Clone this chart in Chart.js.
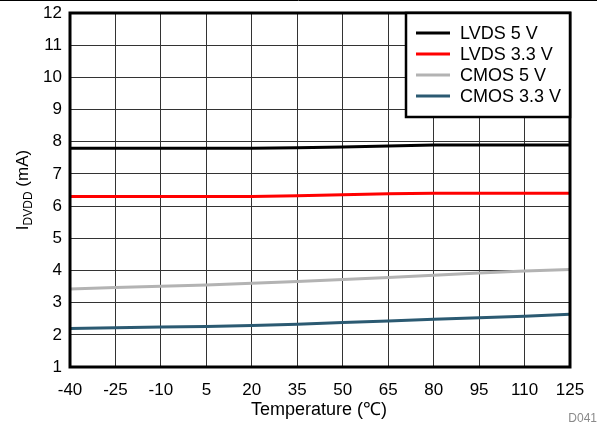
<!DOCTYPE html>
<html><head><meta charset="utf-8">
<script src="https://cdn.jsdelivr.net/npm/chart.js@4/dist/chart.umd.min.js"></script>
<style>html,body{margin:0;padding:0;background:#fff}#wrap{width:597px;height:426px;position:relative}</style>
</head><body><div id="wrap"><canvas id="c" width="597" height="426"></canvas></div>
<script>
const temperatures = [-40,-25,-10,5,20,35,50,65,80,95,110,125];
const lvds5 = [7.8,7.8,7.8,7.8,7.8,7.81,7.84,7.87,7.9,7.9,7.9,7.9];
const lvds33 = [6.3,6.3,6.3,6.3,6.3,6.32,6.35,6.38,6.4,6.4,6.4,6.4];
const cmos5 = [3.42,3.47,3.51,3.55,3.6,3.66,3.72,3.78,3.85,3.92,3.98,4.03];
const cmos33 = [2.2,2.22,2.24,2.26,2.29,2.33,2.38,2.43,2.48,2.53,2.58,2.64];
const seriesNames = ['LVDS 5 V','LVDS 3.3 V','CMOS 5 V','CMOS 3.3 V'];
const seriesColors = ['#000000','#ff0000','#b3b3b3','#2b5a72'];
const FONT = '"Liberation Sans", Arial, sans-serif';

const mk = (vals,i)=>({label:seriesNames[i],data:temperatures.map((t,k)=>({x:t,y:vals[k]})),borderColor:seriesColors[i],backgroundColor:seriesColors[i],borderWidth:3,pointRadius:0,tension:0,fill:false});

const overlay = {
  id:'overlay',
  afterDraw(chart){
    const ctx=chart.ctx, a=chart.chartArea;
    ctx.save();
    ctx.strokeStyle='#000';ctx.lineWidth=1;
    ctx.beginPath();ctx.moveTo(0,0.5);ctx.lineTo(597,0.5);ctx.stroke();
    ctx.lineWidth=3;ctx.strokeRect(a.left,a.top,a.right-a.left,a.bottom-a.top);
    const lx=406, ly=a.top, lw=a.right-lx, lh=104;
    ctx.fillStyle='#fff';ctx.fillRect(lx,ly,lw,lh);
    ctx.lineWidth=2.5;ctx.strokeRect(lx,ly,lw,lh);
    ctx.font='18px '+FONT;ctx.textBaseline='middle';ctx.textAlign='left';
    chart.data.datasets.forEach((d,i)=>{
      const y=ly+20+i*21;
      ctx.strokeStyle=d.borderColor;ctx.lineWidth=3;
      ctx.beginPath();ctx.moveTo(416,y);ctx.lineTo(450,y);ctx.stroke();
      ctx.fillStyle='#000';ctx.fillText(d.label,460,y+1);
    });
    ctx.translate(22,(a.top+a.bottom)/2);ctx.rotate(-Math.PI/2);
    ctx.fillStyle='#000';ctx.textBaseline='alphabetic';
    const f1='17px '+FONT,f2='12px '+FONT;
    ctx.font=f1;const w1=ctx.measureText('I').width;
    ctx.font=f2;const w2=ctx.measureText('DVDD').width;
    ctx.font=f1;const w3=ctx.measureText(' (mA)').width;
    let x=-(w1+w2+w3)/2;
    ctx.font=f1;ctx.fillText('I',x,6);x+=w1;
    ctx.font=f2;ctx.fillText('DVDD',x,10);x+=w2;
    ctx.font=f1;ctx.fillText(' (mA)',x,6);
    ctx.restore();
    ctx.save();
    ctx.font='18px '+FONT;ctx.fillStyle='#000';ctx.textAlign='center';ctx.textBaseline='middle';
    ctx.fillText('Temperature (\u2103)',319,410);
    ctx.font='12px '+FONT;ctx.fillStyle='#8a8a8a';ctx.textAlign='right';
    ctx.fillText('D041',597,419);
    ctx.restore();
  }
};

new Chart(document.getElementById('c'),{
  type:'line',
  data:{datasets:[mk(lvds5,0),mk(lvds33,1),mk(cmos5,2),mk(cmos33,3)]},
  options:{
    responsive:false,animation:false,
    layout:{padding:{left:0,right:27,top:13,bottom:0}},
    plugins:{legend:{display:false},tooltip:{enabled:false}},
    scales:{
      x:{type:'linear',min:-40,max:125,
        afterBuildTicks(s){s.ticks=temperatures.map(v=>({value:v}));},
        afterFit(s){s.height=59;s.paddingLeft=0;s.paddingRight=0;},
        grid:{color:'#333',lineWidth:1,drawTicks:false},
        border:{display:false},
        ticks:{padding:13,color:'#000',font:{family:FONT,size:17},maxRotation:0,autoSkip:false}},
      y:{min:1,max:12,
        ticks:{stepSize:1,padding:8,color:'#000',font:{family:FONT,size:17}},
        afterFit(s){s.width=70;s.paddingTop=0;s.paddingBottom=0;},
        grid:{color:'#333',lineWidth:1,drawTicks:false},
        border:{display:false}}
    }
  },
  plugins:[overlay]
});
</script></body></html>
